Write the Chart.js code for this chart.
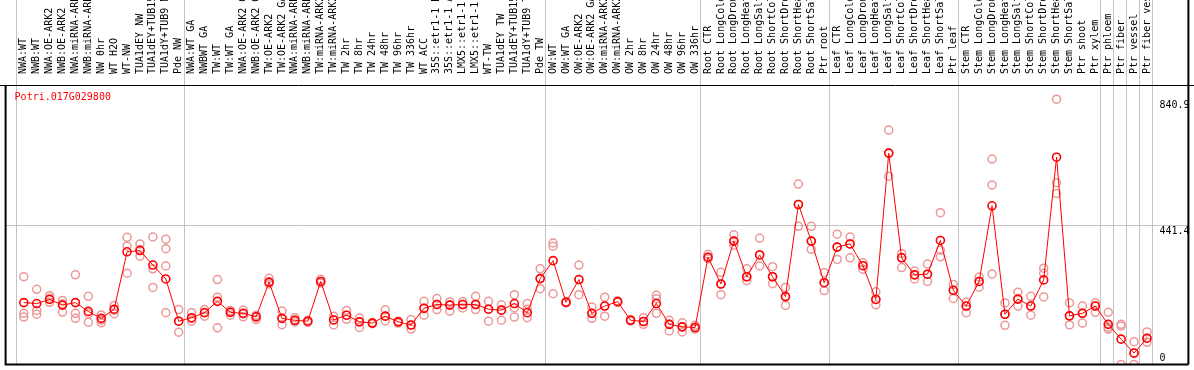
<html>
<head>
	<title>Potri.017G029800</title>
	<meta charset="utf-8">
	<script src="https://cdn.jsdelivr.net/npm/chart.js"></script>
	<style>
		html, body { margin: 0; padding: 0; background: #fff; }
		#wrap { width: 1194px; height: 370px; }
	</style>
</head>
<body>
	<div id="wrap">
		<canvas id="expression" width="1194" height="370"></canvas>
	</div>
</body>
<script>
    const geneId = 'Potri.017G029800';

    // sample names (x categories)
    const tissues = [
        'NWA:WT', 'NWB:WT', 'NWA:OE-ARK2', 'NWB:OE-ARK2', 'NWA:miRNA-ARK2', 'NWB:miRNA-ARK2',
        'NW 0hr', 'WT H2O', 'WT-NW', 'TUA1dEY NW', 'TUA1dEY+TUB15', 'TUA1dY+TUB9 NW', 'Pde NW',
        'NWA:WT GA', 'NWBWT GA', 'TW:WT', 'TW:WT GA', 'NWA:OE-ARK2 GA', 'NWB:OE-ARK2 GA',
        'TW:OE-ARK2', 'TW:OE-ARK2 GA', 'NWA:miRNA-ARK2 GA', 'NWB:miRNA-ARK2 GA', 'TW:miRNA-ARK2',
        'TW:miRNA-ARK2 GA', 'TW 2hr', 'TW 8hr', 'TW 24hr', 'TW 48hr', 'TW 96hr', 'TW 336hr',
        'WT ACC', '35S::etr1-1 H2O', '35S::etr1-1 ACC', 'LMX5::etr1-1 H2O', 'LMX5::etr1-1 ACC',
        'WT-TW', 'TUA1dEY TW', 'TUA1dEY+TUB15', 'TUA1dY+TUB9 TW', 'Pde TW',
        'OW:WT', 'OW:WT GA', 'OW:OE-ARK2', 'OW:OE-ARK2 GA', 'OW:miRNA-ARK2', 'OW:miRNA-ARK2 GA',
        'OW 2hr', 'OW 8hr', 'OW 24hr', 'OW 48hr', 'OW 96hr', 'OW 336hr',
        'Root CTR', 'Root LongCold', 'Root LongDrought', 'Root LongHeat', 'Root LongSalt',
        'Root ShortCold', 'Root ShortDrought', 'Root ShortHeat', 'Root ShortSalt', 'Ptr root',
        'Leaf CTR', 'Leaf LongCold', 'Leaf LongDrought', 'Leaf LongHeat', 'Leaf LongSalt',
        'Leaf ShortCold', 'Leaf ShortDrought', 'Leaf ShortHeat', 'Leaf ShortSalt', 'Ptr leaf',
        'Stem CTR', 'Stem LongCold', 'Stem LongDrought', 'Stem LongHeat', 'Stem LongSalt',
        'Stem ShortCold', 'Stem ShortDrought', 'Stem ShortHeat', 'Stem ShortSalt', 'Ptr shoot',
        'Ptr xylem', 'Ptr phloem', 'Ptr fiber', 'Ptr vessel', 'Ptr fiber vessel'
    ];

    // mean expression (red line)
    const meanExpr = [
        196, 193, 206, 188, 196, 168, 146, 175, 357, 361, 315, 271, 137,
        148, 164, 200, 165, 162, 151, 261, 146, 140, 137, 263, 141, 156, 135, 131, 153, 135, 125,
        178, 190, 188, 190, 190, 175, 172, 193, 164, 272,
        329, 197, 269, 162, 185, 199, 140, 136, 193, 127, 119, 117,
        340, 255, 391, 278, 347, 278, 215, 507, 391, 259,
        372, 382, 313, 206, 670, 338, 284, 286, 393, 235,
        185, 263, 503, 159, 207, 185, 268, 657, 154, 162,
        185, 127, 80, 36, 83
    ];

    // replicates (faint circles)
    const repA = [
        278, 238, 218, 203, 284, 216, 157, 187, 403, 382, 404, 397, 174,
        164, 174, 269, 171, 172, 156, 273, 169, 148, 140, 270, 153, 171, 147, 133, 173, 131, 142,
        200, 209, 198, 199, 216, 200, 189, 221, 193, 303,
        385, 199, 315, 182, 213, 201, 142, 148, 219, 140, 132, 124,
        349, 292, 411, 303, 400, 310, 244, 572, 438, 291,
        413, 404, 322, 230, 743, 352, 296, 318, 481, 253,
        197, 277, 651, 195, 229, 216, 305, 841, 195, 185,
        195, 165, 127, 72, 103
    ];
    const repB = [
        162, 171, 197, 166, 162, 161, 140, 161, 375, 343, 303, 367, 102,
        137, 153, 213, 156, 151, 142, 255, 126, 135, 133, 258, 125, 143, 117, 129, 138, 137, 112,
        156, 174, 169, 179, 174, 137, 140, 150, 148, 240,
        375, 195, 221, 146, 153, 197, 138, 127, 208, 106, 103, 112,
        335, 221, 378, 266, 312, 256, 187, 438, 365, 234,
        333, 338, 302, 189, 597, 307, 271, 263, 362, 209,
        164, 245, 569, 124, 185, 156, 289, 576, 125, 131,
        165, 112, 122, 0, 70
    ];
    const repC = [
        150, 159, 210, 192, 146, 134, 132, 172, 289, 364, 244, 312, 137,
        145, 165, 116, 166, 160, 150, 260, 146, 140, 137, 263, 141, 156, 135, 131, 153, 135, 125,
        178, 190, 188, 190, 190, 175, 172, 180, 175, 272,
        224, 197, 269, 162, 185, 199, 140, 136, 162, 127, 119, 117,
        340, 255, 391, 278, 347, 278, 215, 507, 391, 259,
        372, 382, 313, 206, 670, 338, 284, 286, 341, 235,
        185, 263, 287, 159, 207, 185, 214, 542, 154, 162,
        185, 118, 0, 36, 83
    ];
    const repD = [
        null, null, null, null, null, null, null, null, null, null, null, 164, null,
        null, null, null, null, null, null, null, null, null, null, null, null, null, null, null, null, null, null,
        null, null, null, null, null, null, null, null, null, null,
        null, null, null, null, null, null, null, null, null, null, null, null,
        null, null, null, null, null, null, null, null, null, null,
        null, null, null, null, null, null, null, null, null, null,
        null, null, null, null, null, null, null, null, null, null,
        null, null, null, null, null
    ];

    const yTicks = [0, 441.4, 840.9];
    const groupEnds = [-1, 12, 40, 52, 62, 72, 83, 84, 85, 86, 87]; // separator after these samples

    const toPoints = (arr) => arr.map((v, i) => ({ x: i, y: v }));

    const replicateSet = (arr) => ({
        type: 'scatter',
        data: toPoints(arr),
        showLine: false,
        pointRadius: 4,
        pointBorderWidth: 1.5,
        pointBorderColor: '#ec9898',
        pointBackgroundColor: 'rgba(0,0,0,0)',
        pointHoverRadius: 4,
        order: 2,
        clip: 0
    });

    // grey separators, frame, gene id and y labels
    const decorations = {
        id: 'decorations',
        beforeDatasetsDraw(chart) {
            const { ctx, chartArea, scales: { x } } = chart;
            ctx.save();
            ctx.strokeStyle = '#c4c4c4';
            ctx.lineWidth = 1;
            groupEnds.forEach(i => {
                const px = Math.round(x.getPixelForValue(i + 0.4)) + 0.5;
                ctx.beginPath();
                ctx.moveTo(px, 0);
                ctx.lineTo(px, chartArea.bottom);
                ctx.stroke();
            });
            ctx.restore();
        },
        afterDatasetsDraw(chart) {
            const { ctx, chartArea, scales: { y } } = chart;
            ctx.save();
            ctx.strokeStyle = '#000';
            ctx.lineWidth = 1;
            ctx.beginPath();
            ctx.moveTo(0, chartArea.top + 0.5);
            ctx.lineTo(chart.width, chartArea.top + 0.5);
            ctx.stroke();
            ctx.lineWidth = 2;
            ctx.beginPath();
            ctx.moveTo(chartArea.left, chartArea.top);
            ctx.lineTo(chartArea.left, chartArea.bottom);
            ctx.lineTo(chartArea.right, chartArea.bottom);
            ctx.moveTo(chartArea.right, 0);
            ctx.lineTo(chartArea.right, chartArea.bottom);
            ctx.stroke();

            ctx.font = '10px "DejaVu Sans Mono"';
            ctx.textBaseline = 'alphabetic';
            ctx.textAlign = 'left';
            ctx.fillStyle = '#ff0000';
            ctx.fillText(geneId, chartArea.left + 9, chartArea.top + 15);

            ctx.fillStyle = '#000';
            yTicks.forEach(v => {
                const py = Math.min(y.getPixelForValue(v) + 9, chartArea.bottom - 3);
                ctx.fillText(String(v), chartArea.right - 29, py);
            });
            ctx.restore();
        }
    };

    const config = {
        type: 'line',
        data: {
            datasets: [
                {
                    data: toPoints(meanExpr),
                    borderColor: '#ff0000',
                    borderWidth: 1,
                    tension: 0,
                    pointRadius: 4,
                    pointBorderWidth: 1.6,
                    pointBorderColor: '#ff0000',
                    pointBackgroundColor: 'rgba(0,0,0,0)',
                    pointHoverRadius: 4,
                    order: 1,
                    clip: 0
                },
                replicateSet(repA),
                replicateSet(repB),
                replicateSet(repC),
                replicateSet(repD)
            ]
        },
        options: {
            responsive: false,
            animation: false,
            events: [],
            layout: { padding: { left: 1, right: 2, top: 0, bottom: 1 } },
            plugins: {
                legend: { display: false },
                tooltip: { enabled: false }
            },
            scales: {
                x: {
                    type: 'linear',
                    position: 'top',
                    min: -1.408,
                    max: 90.21,
                    grid: { display: false },
                    border: { display: false },
                    afterBuildTicks: (scale) => {
                        scale.ticks = tissues.map((_, i) => ({ value: i }));
                    },
                    afterFit: (scale) => { scale.height = 85; },
                    ticks: {
                        autoSkip: false,
                        minRotation: 90,
                        maxRotation: 90,
                        padding: 3,
                        labelOffset: 12,
                        color: '#000',
                        font: { family: 'DejaVu Sans Mono', size: 10 },
                        callback: (v) => tissues[v]
                    }
                },
                y: {
                    type: 'linear',
                    position: 'right',
                    min: 0,
                    max: 886,
                    border: { display: false },
                    afterBuildTicks: (scale) => {
                        scale.ticks = yTicks.map(v => ({ value: v }));
                    },
                    afterFit: (scale) => { scale.width = 0; },
                    grid: {
                        drawTicks: false,
                        lineWidth: 1,
                        color: (ctx) => ctx.tick && ctx.tick.value === 441.4 ? '#c4c4c4' : 'rgba(0,0,0,0)'
                    },
                    ticks: { display: false }
                }
            }
        },
        plugins: [decorations]
    };

    new Chart(document.getElementById('expression'), config);
</script>
</html>
